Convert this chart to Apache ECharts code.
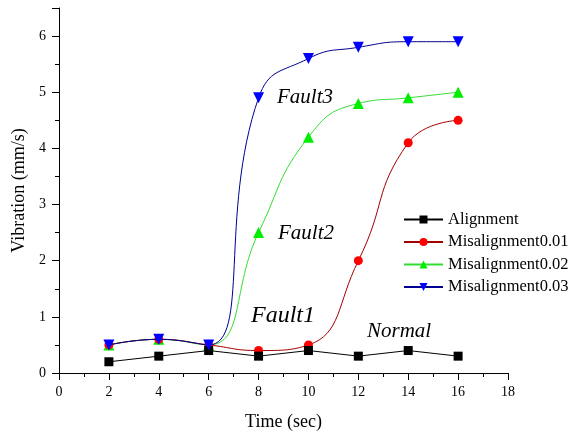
<!DOCTYPE html>
<html>
<head>
<meta charset="utf-8">
<script src="https://cdn.jsdelivr.net/npm/echarts@6/dist/echarts.min.js"></script>
<style>
  html, body { margin: 0; padding: 0; background: #fff; }
  #chart { width: 574px; height: 436px; }
</style>
</head>
<body>
<div id="chart"></div>
<script>
// values
var times = [2, 4, 6, 8, 10, 12, 14, 16];
var alignment = [0.2, 0.3, 0.4, 0.3, 0.4, 0.3, 0.4, 0.3];
var misalign001 = [0.5, 0.6, 0.5, 0.4, 0.5, 2.0, 4.1, 4.5];
var misalign002 = [0.5, 0.6, 0.5, 2.5, 4.2, 4.8, 4.9, 5.0];
var misalign003 = [0.5, 0.6, 0.5, 4.9, 5.6, 5.8, 5.9, 5.9];
var seriesNames = ['Alignment', 'Misalignment0.01', 'Misalignment0.02', 'Misalignment0.03'];
var labels = ['Fault3', 'Fault2', 'Fault1', 'Normal'];

var serif = '"Liberation Serif", "DejaVu Serif", serif';

function pairs(ys) {
    return times.map(function(t, i) { return [t, ys[i]]; });
}

var chart = echarts.init(document.getElementById('chart'));

chart.setOption({
    backgroundColor: '#fff',
    animation: false,
    grid: { left: 59, right: 66, top: 8, bottom: 62 },
    legend: {
        left: 398,
        top: 206,
        orient: 'vertical',
        itemWidth: 39,
        itemHeight: 10,
        itemGap: 5.5,
        textStyle: { fontFamily: serif, fontSize: 16.5, lineHeight: 16, color: '#000' },
        data: seriesNames
    },
    xAxis: {
        type: 'value',
        min: 0,
        max: 18,
        interval: 2,
        name: 'Time (sec)',
        nameLocation: 'middle',
        nameGap: 40,
        nameTextStyle: { fontFamily: serif, fontSize: 18, color: '#000' },
        axisLine: { onZero: false, lineStyle: { color: '#000', width: 1 } },
        axisTick: { inside: false, length: 7, lineStyle: { color: '#000' } },
        minorTick: { show: true, splitNumber: 2, length: 4, lineStyle: { color: '#000' } },
        axisLabel: { margin: 12, fontFamily: serif, fontSize: 14, color: '#000' },
        splitLine: { show: false }
    },
    yAxis: {
        type: 'value',
        min: 0,
        max: 6.5,
        interval: 1,
        name: 'Vibration (mm/s)',
        nameLocation: 'middle',
        nameGap: 24,
        nameTextStyle: { fontFamily: serif, fontSize: 18, color: '#000' },
        axisLine: { show: true, onZero: false, lineStyle: { color: '#000', width: 1 } },
        axisTick: { show: true, inside: false, length: 7, lineStyle: { color: '#000' } },
        minorTick: { show: true, splitNumber: 2, length: 4, lineStyle: { color: '#000' } },
        axisLabel: {
            margin: 13, fontFamily: serif, fontSize: 14, color: '#000',
            formatter: function(v) { return Number.isInteger(v) ? String(v) : ''; }
        },
        splitLine: { show: false }
    },
    series: [
        {
            name: seriesNames[0],
            type: 'line',
            data: pairs(alignment),
            symbol: 'rect',
            symbolSize: 9,
            itemStyle: { color: '#000' },
            lineStyle: { color: '#000', width: 1 },
            z: 5
        },
        {
            name: seriesNames[1],
            type: 'line',
            data: pairs(misalign001),
            smooth: 0.5,
            symbol: 'circle',
            symbolSize: 9,
            itemStyle: { color: '#ff0000' },
            lineStyle: { color: '#a00000', width: 1 },
            z: 4
        },
        {
            name: seriesNames[2],
            type: 'line',
            data: pairs(misalign002),
            smooth: 0.5,
            symbol: 'triangle',
            symbolSize: 11,
            itemStyle: { color: '#00ee00' },
            lineStyle: { color: '#33dd33', width: 1 },
            z: 3
        },
        {
            name: seriesNames[3],
            type: 'line',
            data: pairs(misalign003),
            smooth: 0.5,
            symbol: 'triangle',
            symbolRotate: 180,
            symbolSize: 11,
            itemStyle: { color: '#0000ff' },
            lineStyle: { color: '#000090', width: 1 },
            z: 6
        }
    ],
    graphic: [
        { type: 'text', left: 277, top: 87, style: { text: labels[0], font: 'italic 21px ' + serif, fill: '#000' } },
        { type: 'text', left: 278, top: 223, style: { text: labels[1], font: 'italic 21px ' + serif, fill: '#000' } },
        { type: 'text', left: 251, top: 304, style: { text: labels[2], font: 'italic 24px ' + serif, fill: '#000' } },
        { type: 'text', left: 367, top: 321, style: { text: labels[3], font: 'italic 21px ' + serif, fill: '#000' } }
    ]
});
</script>
</body>
</html>
